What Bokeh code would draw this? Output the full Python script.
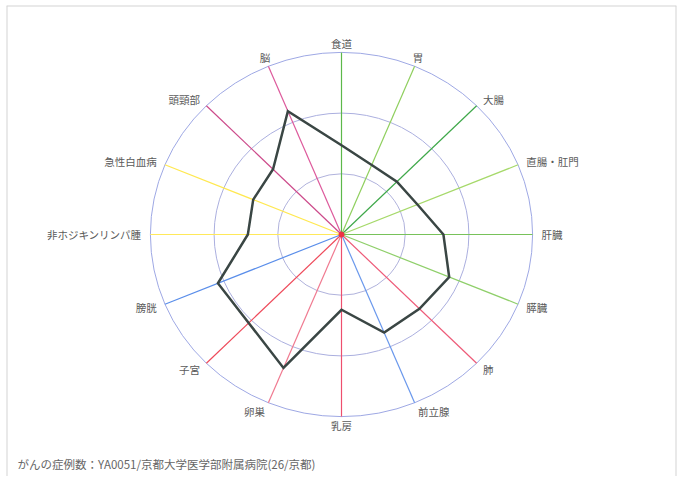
import numpy as np
from bokeh.plotting import figure
from bokeh.models import Range1d, ColumnDataSource, Label, Span
from bokeh.core.properties import value
from bokeh.embed import file_html
from bokeh.resources import INLINE

# ---- data ----
categories = ["食道", "胃", "大腸", "直腸・肛門", "肝臓", "膵臓", "肺", "前立腺",
              "乳房", "卵巣", "子宮", "膀胱", "非ホジキンリンパ腫", "急性白血病", "頭頸部", "脳"]
values = [1.47, 1.24, 1.23, 1.29, 1.60, 1.83, 1.73, 1.75,
          1.24, 2.38, 2.06, 2.10, 1.47, 1.50, 1.52, 2.20]
rings = [1, 2, 3]
axis_colors = ["#5cb84a", "#8fcf5e", "#3fa84a", "#a6d96a", "#78c25a", "#8fcf6a",
               "#ee5a78", "#6a98ec", "#ee4f6e", "#f07a90", "#ee4a5a", "#5a8eea",
               "#ffe95a", "#ffe850", "#cc4a8a", "#dd5a9c"]
footer = "がんの症例数：YA0051/京都大学医学部附属病院(26/京都)"

# ---- layout ----
W, H = 678, 476
L, T, R = 6, 5, 2
cx, cy = 341, 234
sx, sy = 63.7, 60.7   # pixels per unit (horizontal / vertical)
rmax = max(rings)

p = figure(width=W, height=H, x_range=Range1d(L, W - R), y_range=Range1d(H, T),
           output_backend="svg", toolbar_location=None,
           min_border_left=L, min_border_top=T, min_border_right=R, min_border_bottom=0,
           x_axis_location=None, y_axis_location=None)
p.grid.visible = False
p.outline_line_color = None
p.background_fill_color = "white"
p.border_fill_color = "white"
for loc, dim in [(L, "height"), (W - R, "height"), (T, "width")]:
    p.add_layout(Span(location=loc, dimension=dim, line_color="#d4d4d4", line_width=2))

n = len(categories)
theta = np.arange(n) * 2 * np.pi / n
s, c = np.sin(theta), np.cos(theta)

# rings
ring_colors = ["#b0b2dc", "#abafdf", "#9ea8e4"]
p.ellipse(x=[cx] * len(rings), y=[cy] * len(rings),
          width=[2 * r * sx for r in rings], height=[2 * r * sy for r in rings],
          fill_color=None, line_color=ring_colors, line_width=1)

# spokes
p.segment(x0=[cx] * n, y0=[cy] * n,
          x1=list(cx + s * rmax * sx), y1=list(cy - c * rmax * sy),
          line_color=axis_colors, line_width=1.2)

# data polygon
vals = np.array(values)
xs = list(cx + s * vals * sx)
ys = list(cy - c * vals * sy)
p.line(xs + [xs[0]], ys + [ys[0]], line_color="#3a4644", line_width=2.5, line_join="miter")

p.scatter([cx], [cy], size=5, color="#ee3344")

# category labels
off = 9
lx = cx + s * (rmax * sx + off)
ly = cy - c * (rmax * sy + off)
aligns = []
for si, ci in zip(s, c):
    if ci >= 0:
        aligns.append("center" if abs(si) < 0.5 else ("left" if si > 0 else "right"))
    else:
        aligns.append("center" if abs(si) < 0.2 else ("left" if si > 0 else "right"))
src = ColumnDataSource(dict(x=list(lx), y=list(ly), t=categories, a=aligns))
p.text(x="x", y="y", text="t", text_align="a", source=src, text_baseline="middle",
       text_font=value("Noto Sans CJK JP"), text_font_size="10.5px", text_color="#5a5a5a")

p.add_layout(Label(x=17, y=463, text=footer, text_baseline="middle",
                   text_font="Noto Sans CJK JP", text_font_size="11.5px", text_color="#666666"))

open("out.html", "w").write(file_html(p, INLINE))
